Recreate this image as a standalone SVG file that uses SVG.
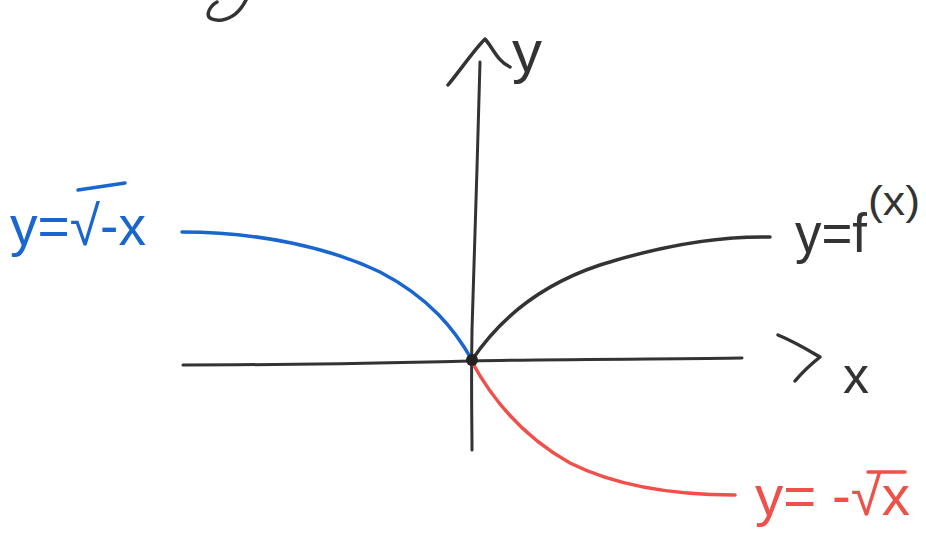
<svg xmlns="http://www.w3.org/2000/svg" width="926" height="541" viewBox="0 0 926 541">
<style>
.stroke{fill:none;stroke-linecap:round;stroke-linejoin:round}
.ink{stroke:#333}
.lbl{font-family:"Liberation Sans","DejaVu Sans",sans-serif}
</style>
<rect width="926" height="541" fill="#fff"/>
<path class="stroke ink" d="M217,2 C209,6 200,22 222,20 C234,18 242,8 246,0" stroke-width="3.5"/>
<g id="axes">
<path id="y-axis" class="stroke ink" d="M480,62 C478,150 474,250 472,330 C471,390 472,420 472,450" stroke-width="3"/>
<path id="y-arrow" class="stroke ink" d="M448,85 C462,68 474,50 485,39 C493,48 498,62 510,67" stroke-width="3.5"/>
<path id="x-axis" class="stroke ink" d="M183,365 C300,365 420,362 472,361 C560,359 680,359 742,358" stroke-width="3"/>
<path id="x-arrow" class="stroke ink" d="M778,335 C795,342 808,350 820,357 C810,365 800,375 795,381" stroke-width="3.5"/>
<text class="lbl" x="512" y="72" font-size="60" fill="#333">y</text>
<text class="lbl" x="843" y="393" font-size="52" fill="#333">x</text>
</g>
<g id="connectors">
<path id="blue-curve" class="stroke" stroke="#1a66d0" stroke-width="3.5" d="M182,232 C260,232 330,248 380,272 C430,298 455,330 472,360"/>
<path id="black-curve" class="stroke ink" stroke-width="3.5" d="M472,360 C500,318 540,285 600,265 C660,246 720,236 770,237"/>
<path id="red-curve" class="stroke" stroke="#f0504a" stroke-width="3.5" d="M472,362 C490,395 520,435 570,463 C620,488 680,495 735,495"/>
</g>
<circle id="origin" cx="472" cy="360" r="6" fill="#222"/>
<g id="label-blue">
<text class="lbl" x="10" y="245" font-size="56" fill="#1a66d0" textLength="136" lengthAdjust="spacingAndGlyphs">y=√-x</text>
<path class="stroke" stroke="#1a66d0" stroke-width="3.5" d="M78,190 L125,183"/>
</g>
<g id="label-black">
<text class="lbl" x="795" y="252" font-size="56" fill="#333" textLength="72" lengthAdjust="spacingAndGlyphs">y=f</text>
<text class="lbl" x="868" y="215" font-size="40" fill="#333" textLength="52" lengthAdjust="spacingAndGlyphs">(x)</text>
</g>
<g id="label-red">
<text class="lbl" x="755" y="515" font-size="56" fill="#f0504a" textLength="155" lengthAdjust="spacingAndGlyphs">y= -√x</text>
<path class="stroke" stroke="#f0504a" stroke-width="3.5" d="M868,472 L905,472"/>
</g>
</svg>
